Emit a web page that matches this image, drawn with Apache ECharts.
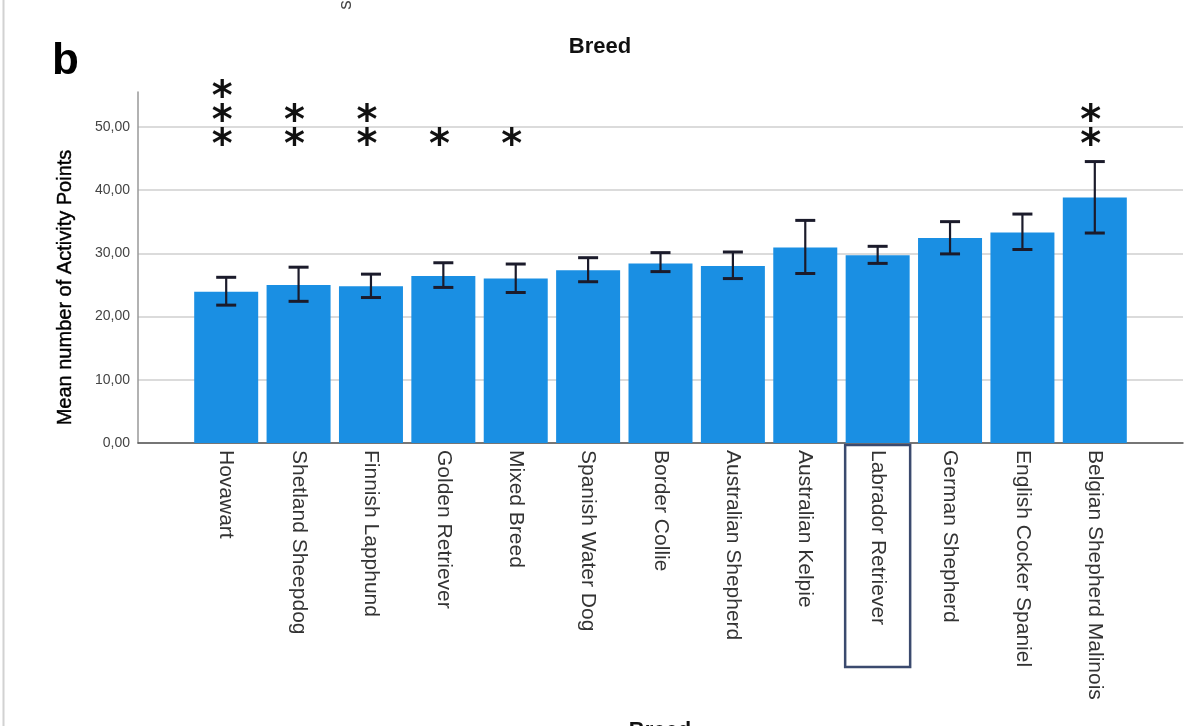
<!DOCTYPE html>
<html><head><meta charset="utf-8">
<script src="https://cdn.jsdelivr.net/npm/echarts@6/dist/echarts.min.js"></script>
<style>html,body{margin:0;padding:0;background:#fff}#c{width:1200px;height:726px}</style>
</head><body><div id="c"></div>
<script>
// ---- data ----
const breeds = ['Hovawart','Shetland Sheepdog','Finnish Lapphund','Golden Retriever','Mixed Breed','Spanish Water Dog','Border Collie','Australian Shepherd','Australian Kelpie','Labrador Retriever','German Shepherd','English Cocker Spaniel','Belgian Shepherd Malinois'];
const meanPoints = [23.9, 25.0, 24.8, 26.4, 26.0, 27.3, 28.4, 28.0, 30.9, 29.7, 32.4, 33.3, 38.8];
const ciLower    = [21.8, 22.4, 23.0, 24.6, 23.8, 25.5, 27.1, 26.0, 26.8, 28.4, 29.9, 30.6, 33.2];
const ciUpper    = [26.2, 27.8, 26.7, 28.5, 28.3, 29.3, 30.1, 30.2, 35.2, 31.1, 35.0, 36.2, 44.5];
const significance = ['***','**','**','*','*','','','','','','','','**'];
const yTickStep = 10;
const referenceBreed = 'Labrador Retriever';

const FONT = '"Liberation Sans", Arial, sans-serif';
const STAR_FONT = 'bold 40px "DejaVu Sans", sans-serif';
const Y_MAX = 55.5;
const STAR_BASE = 48.4;

const chart = echarts.init(document.getElementById('c'), null, {renderer: 'canvas'});

const errorData = breeds.map((b, i) => [i, ciLower[i], ciUpper[i]]);
const starData = breeds.map((b, i) => [i, significance[i].length]);

const option = {
  backgroundColor: '#ffffff',
  animation: false,
  title: {
    text: 'Breed', left: 'center', top: 31,
    textStyle: {fontFamily: FONT, fontSize: 22, fontWeight: 'bold', color: '#111'}
  },
  grid: [
    {left: 190, right: 69, top: 92, bottom: 283},
    {left: 138, right: 17, top: 92, bottom: 283}
  ],
  xAxis: [
    {
      type: 'category', gridIndex: 0, data: breeds,
      axisLine: {show: false}, axisTick: {show: false},
      axisLabel: {
        interval: 0, rotate: -90, margin: 2,
        fontFamily: FONT, fontSize: 21, color: '#333',
        formatter: v => v === referenceBreed ? '{box|' + v + '}' : '{n|' + v + '}',
        rich: {
          n: {fontFamily: FONT, fontSize: 21, color: '#333', padding: [0, 0, 0, 5]},
          box: {fontFamily: FONT, fontSize: 21, color: '#333', padding: [22, 42, 22, 5],
                borderColor: '#3b4a6e', borderWidth: 2.5}
        }
      },
      splitLine: {show: false}
    },
    {
      type: 'value', gridIndex: 1, min: 0, max: 1,
      axisLine: {show: true, lineStyle: {color: '#555', width: 1.5}},
      axisTick: {show: false}, axisLabel: {show: false}, splitLine: {show: false}
    }
  ],
  yAxis: [
    {type: 'value', gridIndex: 0, min: 0, max: Y_MAX, show: false, splitLine: {show: false}},
    {
      type: 'value', gridIndex: 1, min: 0, max: Y_MAX, interval: yTickStep,
      name: 'Mean number of Activity Points', nameLocation: 'middle', nameGap: 63,
      nameTextStyle: {fontFamily: FONT, fontSize: 20, color: '#000', padding: [0, 40, 0, 0],
                      textBorderColor: '#000', textBorderWidth: 0.4},
      axisLine: {show: true, lineStyle: {color: '#999', width: 1.5}},
      axisTick: {show: false},
      axisLabel: {
        margin: 8, fontFamily: FONT, fontSize: 14, color: '#444', showMaxLabel: false,
        formatter: v => v.toFixed(2).replace('.', ',')
      },
      splitLine: {show: true, showMaxLine: false, lineStyle: {color: '#cfcfcf', width: 1.5}}
    }
  ],
  graphic: [
    {type: 'line', shape: {x1: 3.5, y1: 0, x2: 3.5, y2: 726}, style: {stroke: '#d2d2d2', lineWidth: 2}},
    {type: 'text', left: 52, top: 40, style: {text: 'b', font: 'bold 44px ' + FONT, fill: '#000'}},
    {type: 'text', x: 346, y: 5, rotation: Math.PI / 2,
     style: {text: 's', font: '19px ' + FONT, fill: '#444', align: 'center', verticalAlign: 'middle'}},
    {type: 'text', x: 660, y: 720, style: {text: 'Breed', font: 'bold 22px ' + FONT, fill: '#111', align: 'center', verticalAlign: 'top'}}
  ],
  series: [
    {
      type: 'bar', xAxisIndex: 0, yAxisIndex: 0, data: meanPoints,
      barWidth: 64, itemStyle: {color: '#1a8fe3'}
    },
    {
      type: 'custom', xAxisIndex: 0, yAxisIndex: 0, data: errorData, clip: false, z: 5,
      renderItem: (params, api) => {
        const i = api.value(0);
        const lo = api.coord([i, api.value(1)]);
        const hi = api.coord([i, api.value(2)]);
        const h = 10;
        const st = {stroke: '#1b1b2b', lineWidth: 2.2};
        const cap = {stroke: '#1b1b2b', lineWidth: 3};
        return {type: 'group', children: [
          {type: 'line', shape: {x1: lo[0], y1: lo[1], x2: hi[0], y2: hi[1]}, style: st},
          {type: 'line', shape: {x1: hi[0] - h, y1: hi[1], x2: hi[0] + h, y2: hi[1]}, style: cap},
          {type: 'line', shape: {x1: lo[0] - h, y1: lo[1], x2: lo[0] + h, y2: lo[1]}, style: cap}
        ]};
      }
    },
    {
      type: 'custom', xAxisIndex: 0, yAxisIndex: 0, data: starData, clip: false, z: 6,
      renderItem: (params, api) => {
        const i = api.value(0);
        const n = api.value(1);
        const base = api.coord([i, STAR_BASE]);
        const children = [];
        for (let k = 0; k < n; k++) {
          children.push({type: 'text', style: {
            text: '*', x: base[0] - 4, y: base[1] - k * 24 + 10,
            font: STAR_FONT, fill: '#111', align: 'center', verticalAlign: 'middle'
          }});
        }
        return {type: 'group', children};
      }
    }
  ]
};
chart.setOption(option);
</script>
</body></html>
